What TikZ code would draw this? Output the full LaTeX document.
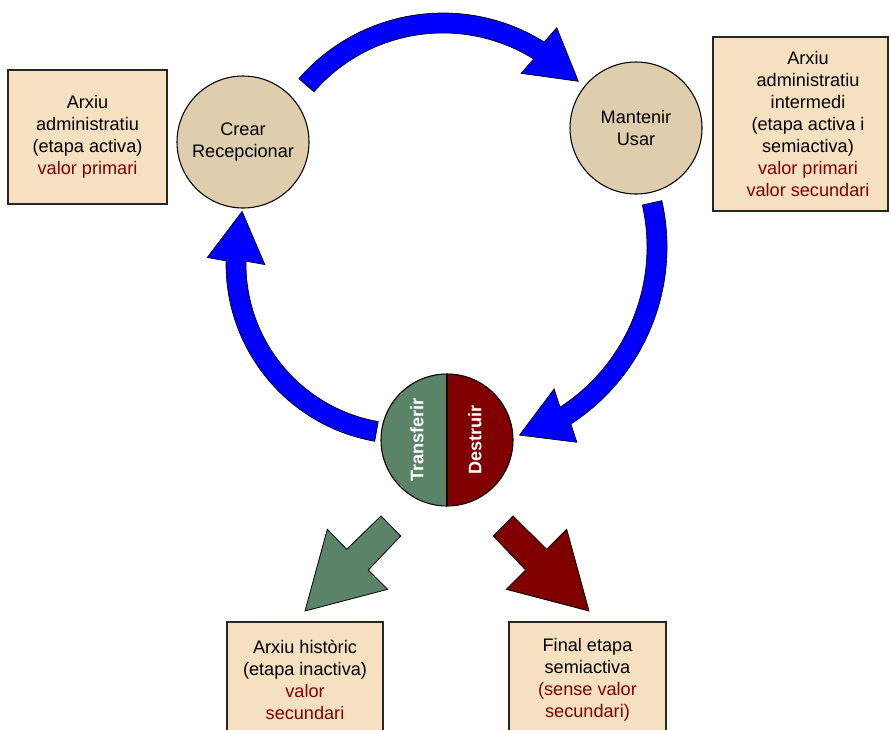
\documentclass[tikz,border=0pt]{standalone}
\usepackage{fontspec}
\setmainfont{Liberation Sans}
\usetikzlibrary{calc}

\definecolor{boxfill}{RGB}{245,224,192}
\definecolor{stagefill}{RGB}{223,206,173}
\definecolor{keepgreen}{RGB}{91,131,104}
\definecolor{lossred}{RGB}{128,0,0}

% curved block arrow: centre, radius, tail angle, head angle, head direction
\newcommand{\circarrow}[5]{%
  \draw[cycle arrow] ($(#1)+(#3:#2+10)$) arc[start angle=#3, end angle=#4, radius=#2+10]
    -- ($(#1)+(#4:#2)+(#5+90:29)$) -- ($(#1)+(#4:#2)+(#5:50)$)
    -- ($(#1)+(#4:#2)+(#5-90:29)$) -- ($(#1)+(#4:#2-10)$)
    arc[start angle=#4, end angle=#3, radius=#2-10] -- cycle;}

\begin{document}
\begin{tikzpicture}[x=0.75pt,y=0.75pt]
\tikzset{
    stage/.style={circle, draw=black, line width=0.8pt, fill=stagefill, minimum size=99pt, inner sep=0pt, align=center},
    archive/.style={draw=black!85, line width=1pt, fill=boxfill, inner sep=0pt, align=center},
    cycle arrow/.style={fill=blue, draw=black, line width=0.5pt},
    keep arrow/.style={fill=keepgreen, draw=black, line width=0.6pt},
    drop arrow/.style={fill=lossred, draw=black, line width=0.6pt},
    fate text/.style={rotate=90, text=white, font=\labelsize\bfseries},
    every node/.style={font=\labelsize}}
\def\labelsize{\fontsize{13.6}{16.5}\selectfont}
\def\rfate{49.5pt}

\clip (0,0) rectangle (891,-729);

% life cycle stages
\node[stage] (crear) at (243,-142) {Crear\\Recepcionar};
\node[stage] (usar) at (636,-128) {Mantenir\\Usar};
\node[circle, minimum size=99pt, inner sep=0pt] (fate) at (447,-440) {};
\fill[keepgreen] (fate.north) arc[start angle=90, end angle=270, radius=\rfate] -- cycle;
\fill[lossred] (fate.north) arc[start angle=90, end angle=-90, radius=\rfate] -- cycle;
\draw[line width=0.8pt] (fate.north) -- (fate.south);
\draw[line width=0.8pt] (fate.center) circle[radius=\rfate];
\node[fate text] (transfer) at (417,-440) {Transferir};
\node[fate text] (destroy) at (475,-440) {Destruir};

% archives
\node[archive, minimum width=119.25pt, minimum height=100.5pt] (active) at (87.5,-137)
    {Arxiu\\administratiu\\(etapa activa)\\\textcolor{lossred}{valor primari}};
\node[archive, minimum width=131.25pt, minimum height=130.5pt] (inter) at (800.5,-124) {};
\node[align=center] (intertext) at (808,-124)
    {Arxiu\\administratiu\\intermedi\\(etapa activa i\\semiactiva)\\
     \textcolor{lossred}{valor primari}\\\textcolor{lossred}{valor secundari}};
\node[archive, minimum width=117pt, minimum height=87pt] (historic) at (305,-680)
    {Arxiu històric\\(etapa inactiva)\\\textcolor{lossred}{valor}\\\textcolor{lossred}{secundari}};
\node[archive, minimum width=117.75pt, minimum height=87pt] (final) at (587.5,-680)
    {Final etapa\\semiactiva\\\textcolor{lossred}{(sense valor}\\\textcolor{lossred}{secundari)}};

% cycle arrows
\coordinate (topc) at (443,-204);
\coordinate (rightc) at (456,-247);
\coordinate (leftc) at (406,-264);
\circarrow{topc}{181}{139}{58}{-38}
\circarrow{rightc}{201}{12.7}{-57}{-157}
\circarrow{leftc}{170}{260}{179}{83}

% outcome arrows
\draw[keep arrow] (381,-516) -- (400.7,-536) -- (368.3,-570) -- (387.7,-589.3)
    -- (305,-611) -- (327.3,-529.3) -- (346.7,-549.3) -- cycle;
\draw[drop arrow] (513,-516) -- (546.7,-549.3) -- (566.7,-529.3) -- (589,-611)
    -- (506.3,-589.3) -- (525.7,-570) -- (493.3,-536) -- cycle;
\end{tikzpicture}
\end{document}
